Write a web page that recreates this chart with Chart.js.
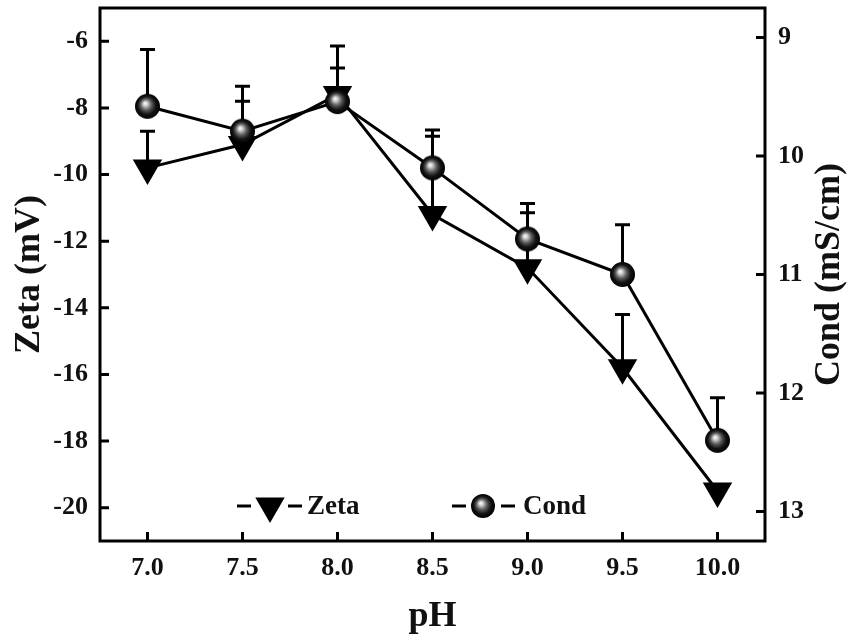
<!DOCTYPE html>
<html>
<head>
<meta charset="utf-8">
<script src="https://cdn.jsdelivr.net/npm/chart.js@4.4.0/dist/chart.umd.min.js"></script>
<style>
  body { margin: 0; background: #fff; }
  #wrap { width: 851px; height: 643px; }
</style>
</head>
<body>
<div id="wrap"><canvas id="zeta-cond-chart"></canvas></div>
<script>
const phValues = [7.0, 7.5, 8.0, 8.5, 9.0, 9.5, 10.0];
const zetaValues = [-9.8, -9.1, -7.6, -11.2, -12.8, -15.8, -19.5];
const zetaErrors = [1.1, 1.3, 0.8, 2.35, 1.65, 1.6, 0];
const condValues = [9.58, 9.79, 9.54, 10.10, 10.70, 11.0, 12.40];
const condErrors = [0.48, 0.38, 0.47, 0.32, 0.30, 0.42, 0.36];

const phTicks = [7.0, 7.5, 8.0, 8.5, 9.0, 9.5, 10.0];
const zetaTicks = [-6, -8, -10, -12, -14, -16, -18, -20];
const condTicks = [9, 10, 11, 12, 13];

const serif = 'Liberation Serif';
const ink = '#111';

// shiny black ball used as the Cond marker
function makeBall(r) {
  const c = document.createElement('canvas');
  const size = Math.ceil(r * 2 + 2);
  c.width = size; c.height = size;
  const g = c.getContext('2d');
  const m = size / 2;
  const grad = g.createRadialGradient(m - r * 0.2, m - r * 0.25, 0, m, m, r);
  grad.addColorStop(0, '#ffffff');
  grad.addColorStop(0.15, '#d8d8d8');
  grad.addColorStop(0.45, '#5a5a5a');
  grad.addColorStop(0.72, '#141414');
  grad.addColorStop(1, '#000000');
  g.fillStyle = grad;
  g.beginPath();
  g.arc(m, m, r, 0, Math.PI * 2);
  g.fill();
  return c;
}
const ball = makeBall(12.5);
const legendBall = makeBall(12);

// error bars, one-sided towards the top of the plot, drawn under lines and markers
const errorBars = {
  id: 'errorBars',
  beforeDatasetsDraw(chart) {
    const ctx = chart.ctx;
    const x = chart.scales.x;
    ctx.save();
    ctx.strokeStyle = '#000';
    ctx.lineWidth = 3;
    chart.data.datasets.forEach(ds => {
      const y = chart.scales[ds.yAxisID];
      ds.data.forEach((p, i) => {
        const err = ds.errors[i];
        if (!err) return;
        const px = x.getPixelForValue(p.x);
        const py = y.getPixelForValue(p.y);
        const pt = Math.min(y.getPixelForValue(p.y + err), y.getPixelForValue(p.y - err));
        ctx.beginPath();
        ctx.moveTo(px, py);
        ctx.lineTo(px, pt);
        ctx.moveTo(px - 7.5, pt);
        ctx.lineTo(px + 7.5, pt);
        ctx.stroke();
      });
    });
    ctx.restore();
  }
};

// box frame, inward ticks, right title and legend
const frame = {
  id: 'frame',
  afterDraw(chart) {
    const ctx = chart.ctx;
    const a = chart.chartArea;
    ctx.save();
    ctx.strokeStyle = '#000';
    ctx.lineWidth = 3;
    ctx.strokeRect(a.left, a.top, a.right - a.left, a.bottom - a.top);

    const tickLen = 9;
    ctx.beginPath();
    chart.scales.x.ticks.forEach(t => {
      const px = chart.scales.x.getPixelForValue(t.value);
      ctx.moveTo(px, a.bottom);
      ctx.lineTo(px, a.bottom - tickLen);
    });
    chart.scales.y.ticks.forEach(t => {
      const py = chart.scales.y.getPixelForValue(t.value);
      ctx.moveTo(a.left, py);
      ctx.lineTo(a.left + tickLen, py);
    });
    chart.scales.y1.ticks.forEach(t => {
      const py = chart.scales.y1.getPixelForValue(t.value);
      ctx.moveTo(a.right, py);
      ctx.lineTo(a.right - tickLen, py);
    });
    ctx.stroke();

    // right axis title reads bottom to top
    ctx.fillStyle = ink;
    ctx.font = 'bold 36px "' + serif + '"';
    ctx.textAlign = 'center';
    ctx.textBaseline = 'middle';
    ctx.translate(830, (a.top + a.bottom) / 2);
    ctx.rotate(-Math.PI / 2);
    ctx.fillText('Cond (mS/cm)', 0, 0);
    ctx.setTransform(1, 0, 0, 1, 0, 0);

    // legend
    const ly = 506;
    ctx.lineWidth = 3;
    ctx.beginPath();
    ctx.moveTo(237, ly); ctx.lineTo(251, ly);
    ctx.moveTo(288, ly); ctx.lineTo(302, ly);
    ctx.moveTo(452, ly); ctx.lineTo(466, ly);
    ctx.moveTo(501, ly); ctx.lineTo(515, ly);
    ctx.stroke();
    ctx.fillStyle = '#000';
    ctx.beginPath();
    ctx.moveTo(270 - 14.7, ly - 8.5);
    ctx.lineTo(270 + 14.7, ly - 8.5);
    ctx.lineTo(270, ly + 17);
    ctx.closePath();
    ctx.fill();
    ctx.drawImage(legendBall, 483 - legendBall.width / 2, ly - legendBall.height / 2);
    ctx.fillStyle = ink;
    ctx.font = 'bold 27px "' + serif + '"';
    ctx.textAlign = 'left';
    ctx.textBaseline = 'middle';
    ctx.fillText('Zeta', 307, ly + 1);
    ctx.fillText('Cond', 523, ly + 1);
    ctx.restore();
  }
};

const noPad = s => { s.paddingTop = 0; s.paddingBottom = 0; s.paddingLeft = 0; s.paddingRight = 0; };

new Chart(document.getElementById('zeta-cond-chart'), {
  type: 'line',
  data: {
    datasets: [
      {
        label: 'Cond',
        data: condValues.map((v, i) => ({ x: phValues[i], y: v })),
        errors: condErrors,
        yAxisID: 'y1',
        order: 0,
        borderColor: '#000',
        borderWidth: 3,
        pointStyle: ball,
        pointRadius: 12.5,
        pointHoverRadius: 12.5,
        tension: 0
      },
      {
        label: 'Zeta',
        data: zetaValues.map((v, i) => ({ x: phValues[i], y: v })),
        errors: zetaErrors,
        yAxisID: 'y',
        order: 1,
        borderColor: '#000',
        borderWidth: 3,
        pointStyle: 'triangle',
        rotation: 180,
        pointRadius: 17,
        pointHoverRadius: 17,
        pointBackgroundColor: '#000',
        pointBorderColor: '#000',
        pointBorderWidth: 0,
        tension: 0
      }
    ]
  },
  options: {
    responsive: true,
    maintainAspectRatio: false,
    animation: false,
    events: [],
    layout: { autoPadding: false, padding: { top: 8, left: 0, right: 0, bottom: 0 } },
    scales: {
      x: {
        type: 'linear',
        min: 6.75,
        max: 10.25,
        afterBuildTicks: s => { s.ticks = phTicks.map(v => ({ value: v })); },
        afterFit: s => { s.height = 102; noPad(s); },
        grid: { display: false, drawTicks: false },
        border: { display: false },
        ticks: {
          padding: 12,
          color: ink,
          font: { family: serif, size: 26, weight: 'bold' },
          callback: v => Number(v).toFixed(1)
        },
        title: {
          display: true,
          text: 'pH',
          color: ink,
          padding: { top: 0, bottom: 5 },
          font: { family: serif, size: 36, weight: 'bold' }
        }
      },
      y: {
        position: 'left',
        min: -21,
        max: -5,
        afterBuildTicks: s => { s.ticks = zetaTicks.map(v => ({ value: v })); },
        afterFit: s => { s.width = 100; noPad(s); },
        grid: { display: false, drawTicks: false },
        border: { display: false },
        ticks: {
          padding: 12,
          color: ink,
          font: { family: serif, size: 26, weight: 'bold' }
        },
        title: {
          display: true,
          text: 'Zeta (mV)',
          color: ink,
          padding: { top: 8, bottom: 0 },
          font: { family: serif, size: 36, weight: 'bold' }
        }
      },
      y1: {
        position: 'right',
        reverse: true,
        min: 8.75,
        max: 13.25,
        afterBuildTicks: s => { s.ticks = condTicks.map(v => ({ value: v })); },
        afterFit: s => { s.width = 86; noPad(s); },
        grid: { display: false, drawTicks: false },
        border: { display: false },
        ticks: {
          padding: 13,
          color: ink,
          font: { family: serif, size: 26, weight: 'bold' }
        }
      }
    },
    plugins: {
      legend: { display: false },
      tooltip: { enabled: false }
    }
  },
  plugins: [errorBars, frame]
});
</script>
</body>
</html>
